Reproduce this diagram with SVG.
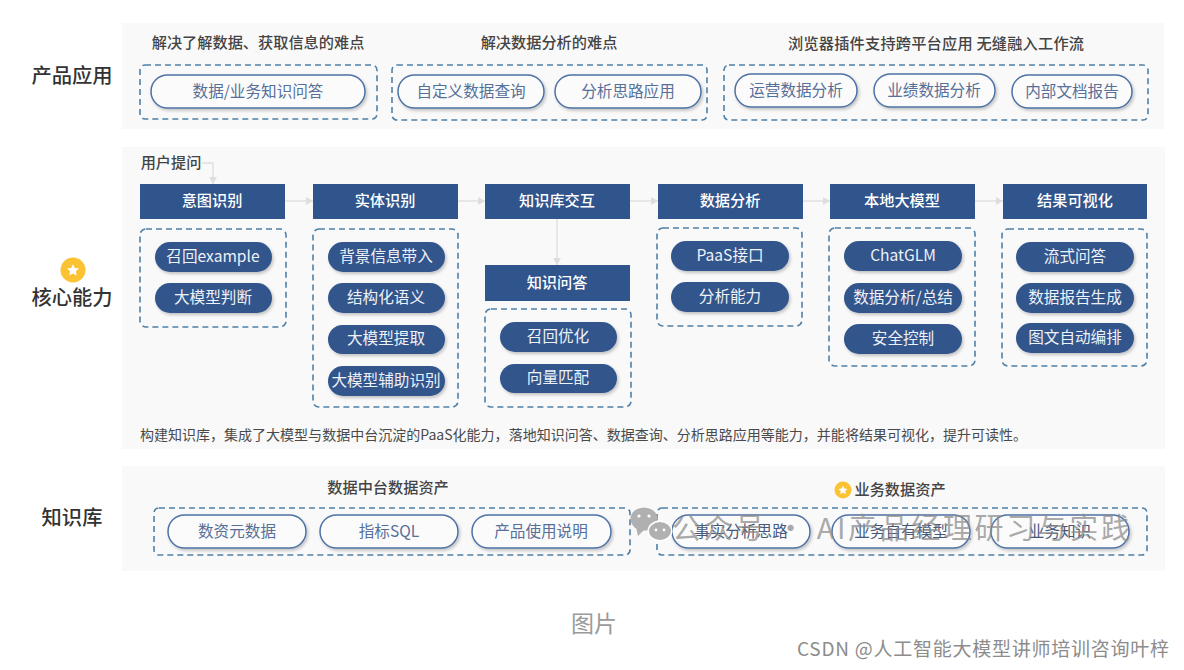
<svg xmlns="http://www.w3.org/2000/svg" width="1184" height="670" viewBox="0 0 1184 670">
<style>
text{font-family:"Noto Sans CJK SC","Noto Sans",sans-serif;text-anchor:middle}
.panel{fill:#f9f9f9}
.side{font-size:20.3px;font-weight:500;fill:#333}
.title{font-size:15.2px;font-weight:500;fill:#444}
.dash{fill:none;stroke:#4f80a8;stroke-width:1.6;stroke-dasharray:6 4}
.out{fill:#fbfbfb;stroke:#4f72a6;stroke-width:1.5;filter:url(#sh)}
.outt{font-size:15.6px;fill:#567099}
.head{fill:#30548c}
.headt{font-size:15.2px;font-weight:500;fill:#fff}
.pill{fill:#30548c;filter:url(#sh)}
.pillt{font-size:15.6px;fill:#eef2f8}
.conn{fill:none;stroke:#e0e0e0;stroke-width:1.4;marker-end:url(#ah)}
.bad{fill:#fbc234}
.star{fill:#fff}
.wm{fill:#b0b0b0}
</style>
<defs>
<marker id="ah" markerUnits="userSpaceOnUse" markerWidth="8" markerHeight="8" refX="7" refY="4" orient="auto"><path d="M0 0L7 4L0 8Z" fill="#dedede"/></marker>
<filter id="sh" x="-10%" y="-20%" width="125%" height="155%"><feDropShadow dx="1.5" dy="2" stdDeviation="1.5" flood-color="#000" flood-opacity=".22"/></filter>
</defs>
<rect width="1184" height="670" fill="#fff"/>
<rect class="panel" x="122" y="23" width="1042" height="106"/>
<rect class="panel" x="122" y="147" width="1043" height="302"/>
<rect class="panel" x="122" y="466" width="1043" height="105"/>

<g id="connectors">
<path class="conn" d="M202 163H213V184"/>
<path class="conn" d="M285 201H313"/>
<path class="conn" d="M458 201H485"/>
<path class="conn" d="M630 201H658"/>
<path class="conn" d="M803 201H830"/>
<path class="conn" d="M975 201H1003"/>
<path class="conn" d="M557 219V265"/>
</g>

<g id="side-labels">
<text class="side" x="72" y="83">产品应用</text>
<text class="side" x="72" y="305">核心能力</text>
<text class="side" x="72" y="525">知识库</text>
<circle class="bad" cx="73" cy="270" r="12.5"/>
<polygon class="star" points="73,264 74.8,268 79,268.5 75.9,271.3 76.7,275.5 73,273.4 69.3,275.5 70.1,271.3 67,268.5 71.2,268"/>
</g>

<g id="app-1">
<text class="title" x="258" y="48">解决了解数据、获取信息的难点</text>
<rect class="dash" x="140" y="65" width="237" height="54" rx="5"/>
<rect class="out" x="151" y="75" width="214" height="33" rx="16.5"/>
<text class="outt" x="258" y="97">数据/业务知识问答</text>
</g>
<g id="app-2">
<text class="title" x="549" y="48">解决数据分析的难点</text>
<rect class="dash" x="392" y="65" width="315" height="55" rx="5"/>
<rect class="out" x="398" y="75" width="146" height="33" rx="16.5"/>
<text class="outt" x="471" y="97">自定义数据查询</text>
<rect class="out" x="555" y="75" width="146" height="33" rx="16.5"/>
<text class="outt" x="628" y="97">分析思路应用</text>
</g>
<g id="app-3">
<text class="title" x="936" y="49" textLength="296" lengthAdjust="spacing">浏览器插件支持跨平台应用 无缝融入工作流</text>
<rect class="dash" x="724" y="65" width="424" height="55" rx="5"/>
<rect class="out" x="735" y="74" width="122" height="33" rx="16.5"/>
<text class="outt" x="796" y="96">运营数据分析</text>
<rect class="out" x="874" y="74" width="121" height="33" rx="16.5"/>
<text class="outt" x="934" y="96">业绩数据分析</text>
<rect class="out" x="1012" y="75" width="120" height="33" rx="16.5"/>
<text class="outt" x="1072" y="97">内部文档报告</text>
</g>

<g id="user-question"><text class="title" x="171" y="168">用户提问</text></g>

<g id="intent">
<rect class="head" x="140" y="184" width="145" height="35"/>
<text class="headt" x="212" y="206">意图识别</text>
<rect class="dash" x="140" y="229" width="146" height="98" rx="6"/>
<rect class="pill" x="155" y="242" width="117" height="30" rx="15"/><text class="pillt" x="213" y="262">召回example</text>
<rect class="pill" x="155" y="283" width="117" height="30" rx="15"/><text class="pillt" x="213" y="303">大模型判断</text>
</g>
<g id="entity">
<rect class="head" x="313" y="184" width="145" height="35"/>
<text class="headt" x="385" y="206">实体识别</text>
<rect class="dash" x="313" y="229" width="145" height="178" rx="6"/>
<rect class="pill" x="328" y="242" width="117" height="30" rx="15"/><text class="pillt" x="386" y="262">背景信息带入</text>
<rect class="pill" x="328" y="283" width="117" height="30" rx="15"/><text class="pillt" x="386" y="303">结构化语义</text>
<rect class="pill" x="328" y="325" width="117" height="29" rx="14.5"/><text class="pillt" x="386" y="344">大模型提取</text>
<rect class="pill" x="328" y="366" width="117" height="30" rx="15"/><text class="pillt" x="386" y="386">大模型辅助识别</text>
</g>
<g id="kb-interact">
<rect class="head" x="485" y="184" width="145" height="35"/>
<text class="headt" x="557" y="206">知识库交互</text>
</g>
<g id="kb-qa">
<rect class="head" x="485" y="265" width="145" height="36"/>
<text class="headt" x="557" y="288">知识问答</text>
<rect class="dash" x="485" y="309" width="146" height="98" rx="6"/>
<rect class="pill" x="500" y="322" width="117" height="30" rx="15"/><text class="pillt" x="558" y="342">召回优化</text>
<rect class="pill" x="500" y="364" width="117" height="29" rx="14.5"/><text class="pillt" x="558" y="383">向量匹配</text>
</g>
<g id="analysis">
<rect class="head" x="658" y="184" width="145" height="35"/>
<text class="headt" x="730" y="206">数据分析</text>
<rect class="dash" x="657" y="228" width="145" height="98" rx="6"/>
<rect class="pill" x="671" y="241" width="118" height="30" rx="15"/><text class="pillt" x="730" y="261">PaaS接口</text>
<rect class="pill" x="671" y="282" width="118" height="30" rx="15"/><text class="pillt" x="730" y="302">分析能力</text>
</g>
<g id="local-model">
<rect class="head" x="830" y="184" width="145" height="35"/>
<text class="headt" x="902" y="206">本地大模型</text>
<rect class="dash" x="829" y="228" width="146" height="138" rx="6"/>
<rect class="pill" x="844" y="241" width="118" height="30" rx="15"/><text class="pillt" x="903" y="261">ChatGLM</text>
<rect class="pill" x="844" y="283" width="118" height="30" rx="15"/><text class="pillt" x="903" y="303">数据分析/总结</text>
<rect class="pill" x="844" y="324" width="118" height="30" rx="15"/><text class="pillt" x="903" y="344">安全控制</text>
</g>
<g id="visual">
<rect class="head" x="1003" y="184" width="144" height="35"/>
<text class="headt" x="1075" y="206">结果可视化</text>
<rect class="dash" x="1002" y="229" width="145" height="137" rx="6"/>
<rect class="pill" x="1016" y="242" width="118" height="30" rx="15"/><text class="pillt" x="1075" y="262">流式问答</text>
<rect class="pill" x="1016" y="283" width="118" height="30" rx="15"/><text class="pillt" x="1075" y="303">数据报告生成</text>
<rect class="pill" x="1016" y="323" width="118" height="30" rx="15"/><text class="pillt" x="1075" y="343">图文自动编排</text>
</g>
<g id="summary"><text x="140" y="440" textLength="887" lengthAdjust="spacing" style="text-anchor:start;font-size:14px;fill:#4a4a4a">构建知识库，集成了大模型与数据中台沉淀的PaaS化能力，落地知识问答、数据查询、分析思路应用等能力，并能将结果可视化，提升可读性。</text></g>

<g id="kb-platform">
<text class="title" x="388" y="493">数据中台数据资产</text>
<rect class="dash" x="154" y="508" width="476" height="47" rx="5"/>
<rect class="out" x="168" y="515" width="138" height="33" rx="16.5"/>
<text class="outt" x="237" y="537">数资元数据</text>
<rect class="out" x="320" y="515" width="138" height="33" rx="16.5"/>
<text class="outt" x="389" y="537">指标SQL</text>
<rect class="out" x="472" y="515" width="139" height="33" rx="16.5"/>
<text class="outt" x="541" y="537">产品使用说明</text>
</g>
<g id="kb-business">
<circle class="bad" cx="843" cy="490" r="8.5"/>
<polygon class="star" points="843,485.5 844.3,488.5 847.5,488.9 845.2,491 845.8,494.2 843,492.6 840.2,494.2 840.8,491 838.5,488.9 841.7,488.5"/>
<text class="title" x="900" y="495">业务数据资产</text>
<rect class="dash" x="657" y="508" width="490" height="47" rx="5"/>
<rect class="out" x="672" y="515" width="138" height="33" rx="16.5"/>
<text class="outt" x="741" y="537" style="fill:#46587a">事实分析思路</text>
<rect class="out" x="832" y="515" width="138" height="33" rx="16.5"/>
<text class="outt" x="901" y="537" style="fill:#46587a">业务自有模型</text>
<rect class="out" x="991" y="515" width="138" height="33" rx="16.5"/>
<text class="outt" x="1060" y="537" style="fill:#46587a">业务知识</text>
</g>

<g id="watermark">
<ellipse class="wm" cx="644" cy="519" rx="13.5" ry="11.5"/>
<path class="wm" d="M636 527L638 536L645 529Z"/>
<ellipse cx="660" cy="531" rx="12.5" ry="10.5" fill="#fff"/>
<ellipse class="wm" cx="660" cy="531" rx="11" ry="9"/>
<circle cx="639" cy="516" r="1.6" fill="#fff"/><circle cx="649" cy="516" r="1.6" fill="#fff"/>
<circle cx="656" cy="530" r="1.4" fill="#fff"/><circle cx="664" cy="530" r="1.4" fill="#fff"/>
<text x="672" y="539" textLength="458" lengthAdjust="spacing" style="text-anchor:start;font-size:29px;fill:#8a8a8a;fill-opacity:.72">公众号 · AI产品经理研习与实践</text>
</g>
<g id="caption">
<text x="594" y="632" style="font-size:23px;fill:#9a9a9a">图片</text>
<text x="983" y="656" style="font-size:19px;fill:#8c8c8c" textLength="372" lengthAdjust="spacing">CSDN @人工智能大模型讲师培训咨询叶梓</text>
</g>
</svg>
